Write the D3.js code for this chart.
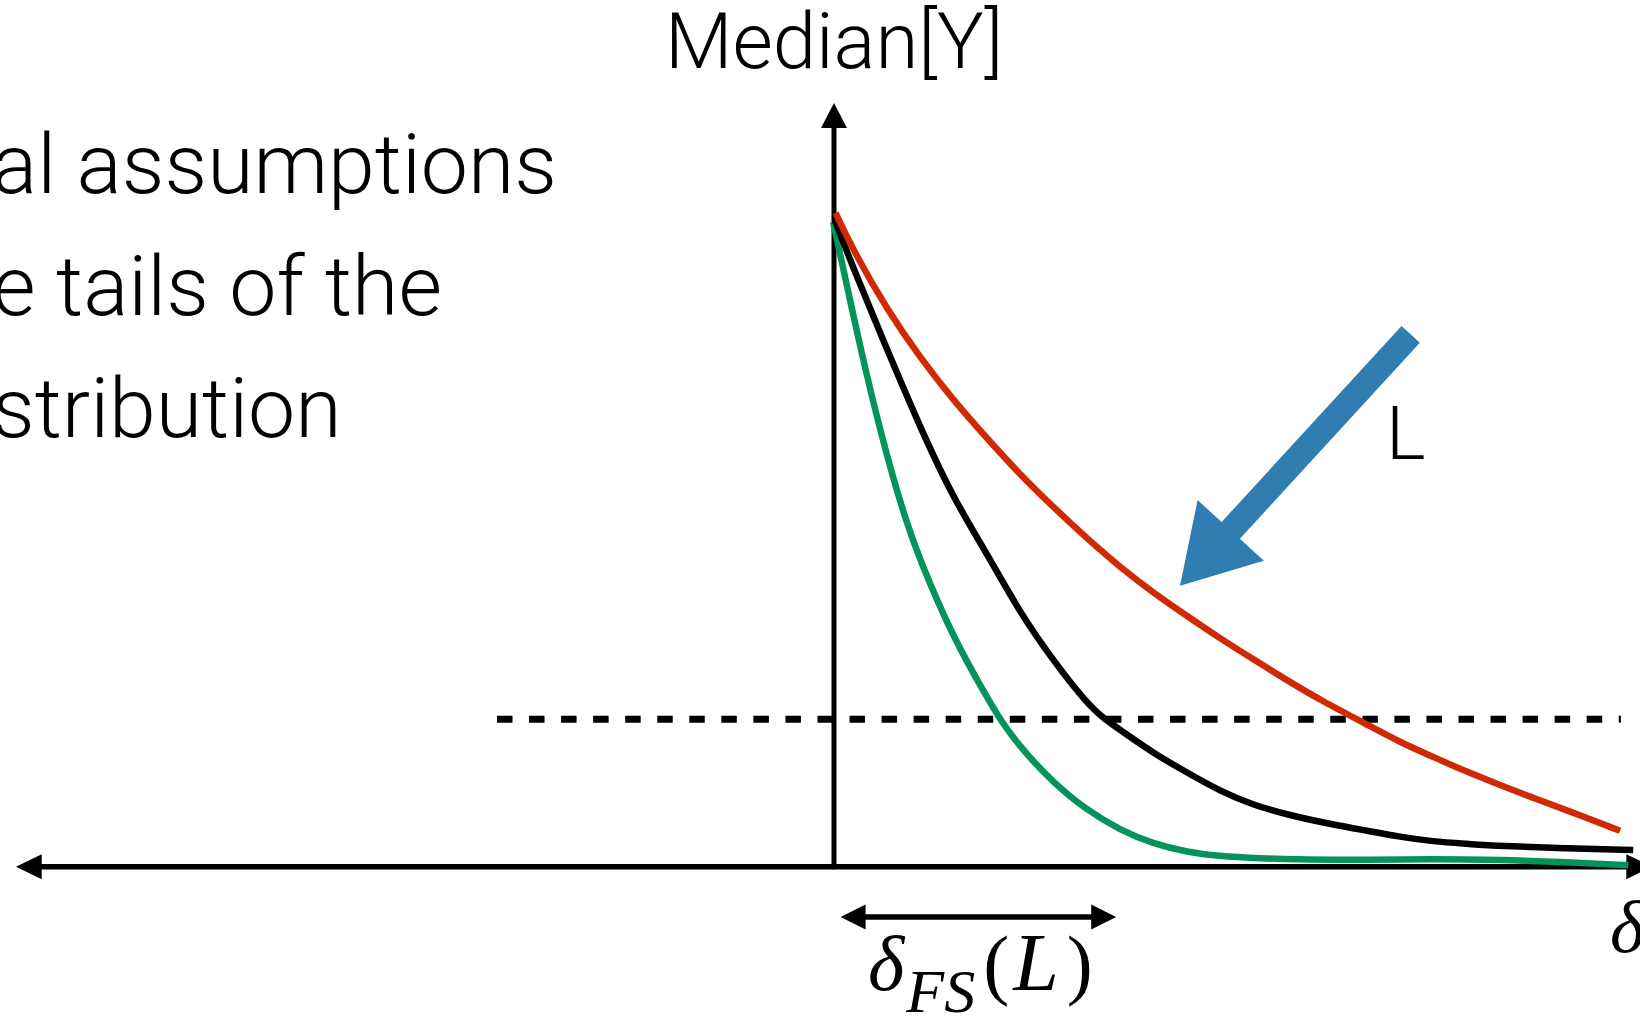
<!DOCTYPE html>
<html>
<head>
<meta charset="utf-8">
<script src="https://cdnjs.cloudflare.com/ajax/libs/d3/7.8.5/d3.min.js"></script>
<style>
  html, body { margin: 0; padding: 0; background: #fff; overflow: hidden; }
  svg { display: block; }
  .sans { font-family: "Helvetica Neue", Roboto, "Liberation Sans", sans-serif; font-weight: 300; }
  .math { font-family: "Liberation Serif", "DejaVu Serif", serif; font-style: italic; }
</style>
</head>
<body>
<div id="graph"></div>
<script>
// values, x = delta (-1..1), y = Median[Y] (0..1)
var redCurve = [[0.002,0.856],[0.023,0.808],[0.065,0.729],[0.105,0.667],[0.145,0.612],[0.187,0.561],
  [0.227,0.514],[0.268,0.471],[0.309,0.430],[0.350,0.392],[0.390,0.359],[0.432,0.328],[0.472,0.299],
  [0.512,0.272],[0.554,0.244],[0.595,0.218],[0.652,0.186],[0.692,0.163],[0.732,0.144],[0.774,0.124],
  [0.814,0.107],[0.855,0.090],[0.896,0.074],[0.961,0.047]]

var blackCurve = [[0.001,0.847],[0.023,0.785],[0.065,0.677],[0.105,0.576],[0.145,0.484],
  [0.187,0.410],[0.227,0.333],[0.268,0.270],[0.309,0.214],[0.331,0.193],[0.350,0.179],[0.390,0.149],
  [0.432,0.123],[0.472,0.099],[0.512,0.081],[0.554,0.068],[0.610,0.055],[0.652,0.047],[0.692,0.039],
  [0.732,0.033],[0.774,0.030],[0.814,0.027],[0.896,0.024],[0.977,0.022]]

var greenCurve = [[-0.001,0.844],[0.016,0.760],[0.037,0.656],[0.065,0.535],[0.090,0.446],[0.105,0.402],
  [0.145,0.301],[0.187,0.222],[0.203,0.193],[0.227,0.157],[0.268,0.110],[0.309,0.074],[0.350,0.048],
  [0.390,0.030],[0.432,0.019],[0.472,0.013],[0.570,0.009],[0.652,0.009],[0.732,0.010],[0.814,0.009],
  [0.896,0.006],[0.971,0.002]]

var threshold = 0.193
var thresholdSpan = [-0.412, 0.962]
var fsSpan = [0.008, 0.345]
var fsLevel = -0.066
var lArrow = [[0.705, 0.697], [0.423, 0.368]]   // tail, tip
var textLines = ['al assumptions', 'e tails of the', 'stribution']

var width = 1640, height = 1023

var x = d3.scaleLinear().domain([-1, 1]).range([16, 1652])
var y = d3.scaleLinear().domain([0, 1]).range([866.7, 103])

var svg = d3.select('#graph').append('svg')
  .attr('width', width).attr('height', height)

// arrowhead: tip point, direction (unit), length, half width
function head(tx, ty, ux, uy, len, hw) {
  var bx = tx - ux * len, by = ty - uy * len
  return 'M' + tx + ',' + ty + 'L' + (bx - uy * hw) + ',' + (by + ux * hw) +
    'L' + (bx + uy * hw) + ',' + (by - ux * hw) + 'Z'
}

// axes
var x0 = x(0), y0 = y(0)
svg.append('line')
  .attr('x1', x(-1) + 20).attr('x2', x(1) - 20).attr('y1', y0).attr('y2', y0)
  .attr('stroke', '#000').attr('stroke-width', 5.5)
svg.append('path').attr('d', head(x(-1), y0, -1, 0, 25.7, 12.5))
svg.append('path').attr('d', head(x(1), y0, 1, 0, 25.7, 12.5))

svg.append('line')
  .attr('x1', x0).attr('x2', x0).attr('y1', y0 + 2.5).attr('y2', y(1) + 20)
  .attr('stroke', '#000').attr('stroke-width', 5)
svg.append('path').attr('d', head(x0, y(1), 0, -1, 25, 13))

// threshold
svg.append('line')
  .attr('x1', x(thresholdSpan[0])).attr('x2', x(thresholdSpan[1]))
  .attr('y1', y(threshold)).attr('y2', y(threshold))
  .attr('stroke', '#000').attr('stroke-width', 7)
  .attr('stroke-dasharray', '15.5 16.55')

// curves
var line = d3.line()
  .x(d => x(d[0]))
  .y(d => y(d[1]))
  .curve(d3.curveBasis)

var series = [
  {pts: greenCurve, color: '#04935a'},
  {pts: blackCurve, color: '#000'},
  {pts: redCurve, color: '#cf2a04'}
]
svg.selectAll('path.curve').data(series).enter().append('path')
  .attr('class', 'curve')
  .attr('d', d => line(d.pts))
  .attr('fill', 'none')
  .attr('stroke', d => d.color)
  .attr('stroke-width', 6.5)

// blue L arrow
;(function() {
  var t0 = [x(lArrow[0][0]), y(lArrow[0][1])], t1 = [x(lArrow[1][0]), y(lArrow[1][1])]
  var dx = t1[0] - t0[0], dy = t1[1] - t0[1], len = Math.hypot(dx, dy)
  var ux = dx / len, uy = dy / len, nx = -uy, ny = ux
  var hw = 12.4, HW = 45, hl = 75
  var b = [t1[0] - ux * hl, t1[1] - uy * hl]
  var pts = [
    [t0[0] + nx * hw, t0[1] + ny * hw], [b[0] + nx * hw, b[1] + ny * hw], [b[0] + nx * HW, b[1] + ny * HW],
    t1, [b[0] - nx * HW, b[1] - ny * HW], [b[0] - nx * hw, b[1] - ny * hw], [t0[0] - nx * hw, t0[1] - ny * hw]
  ]
  svg.append('path').attr('d', 'M' + pts.join('L') + 'Z').attr('fill', '#2f7db1')
})()

// delta_FS double arrow
var fy = y(fsLevel)
svg.append('line')
  .attr('x1', x(fsSpan[0]) + 20).attr('x2', x(fsSpan[1]) - 20).attr('y1', fy).attr('y2', fy)
  .attr('stroke', '#000').attr('stroke-width', 5.5)
svg.append('path').attr('d', head(x(fsSpan[0]), fy, -1, 0, 25, 12.5))
svg.append('path').attr('d', head(x(fsSpan[1]), fy, 1, 0, 25, 12.5))

// texts
svg.append('text').attr('class', 'sans')
  .attr('x', x0).attr('y', 68).attr('text-anchor', 'middle')
  .attr('font-size', 78).text('Median[Y]')

svg.append('text').attr('class', 'sans')
  .attr('x', 1386).attr('y', 459).attr('font-size', 75).text('L')

var para = svg.append('g').attr('class', 'sans')
var t1 = para.append('text').attr('font-size', 84).text(textLines[0])
var fs = 84 * 565 / t1.node().getComputedTextLength()
t1.attr('font-size', fs)
var left = 557 - t1.node().getComputedTextLength()
t1.attr('x', left).attr('y', 193)
para.append('text').attr('font-size', fs).attr('x', left).attr('y', 315).text(textLines[1])
para.append('text').attr('font-size', fs).attr('x', left).attr('y', 437).text(textLines[2])

var lab = svg.append('text').attr('class', 'math').attr('x', 868).attr('y', 990).attr('font-size', 78)
lab.append('tspan').text('δ')
lab.append('tspan').attr('font-size', 62).attr('dy', 22).attr('dx', 2).text('FS')
lab.append('tspan').attr('dy', -22).attr('dx', 8).attr('font-style', 'normal').text('(')
lab.append('tspan').attr('dx', 4).attr('font-size', 82).text('L')
lab.append('tspan').attr('dx', 8).attr('font-style', 'normal').text(')')

svg.append('text').attr('class', 'math')
  .attr('x', 1610).attr('y', 952).attr('font-size', 74).text('δ')
</script>
</body>
</html>
